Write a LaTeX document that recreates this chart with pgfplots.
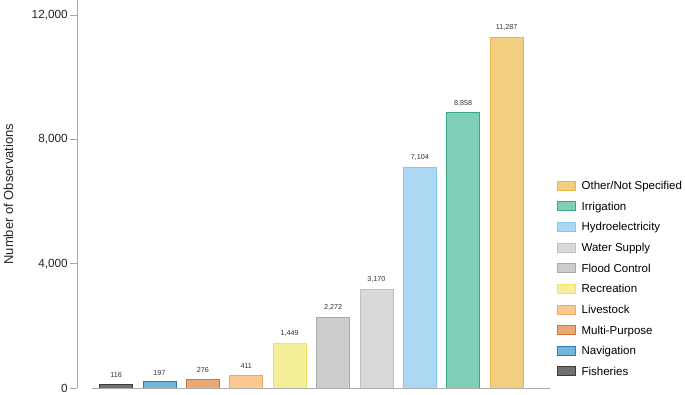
\documentclass[border=0pt]{standalone}
\usepackage{pgfplots}
\pgfplotsset{compat=1.18}
\usepackage{fontspec}
\setmainfont{Liberation Sans}
\definecolor{fisF}{HTML}{707070}\definecolor{fisD}{HTML}{3A3A3A}
\definecolor{navF}{HTML}{74B3DC}\definecolor{navD}{HTML}{2E7DB5}
\definecolor{mulF}{HTML}{E8A878}\definecolor{mulD}{HTML}{D9742E}
\definecolor{livF}{HTML}{FCC892}\definecolor{livD}{HTML}{F8A65B}
\definecolor{recF}{HTML}{F6EF9A}\definecolor{recD}{HTML}{EFE36A}
\definecolor{floF}{HTML}{CCCCCC}\definecolor{floD}{HTML}{A8A8A8}
\definecolor{watF}{HTML}{D9D9D9}\definecolor{watD}{HTML}{C0C0C0}
\definecolor{hydF}{HTML}{ACD8F3}\definecolor{hydD}{HTML}{86C6EF}
\definecolor{irrF}{HTML}{80CFB8}\definecolor{irrD}{HTML}{3AA882}
\definecolor{othF}{HTML}{F2CF80}\definecolor{othD}{HTML}{E8B84A}
\definecolor{axgray}{HTML}{AAAAAA}
\pgfplotsset{
  lg/.style={legend image code/.code={\draw[##1, line width=0.8pt] (0pt,-4pt) rectangle (18pt,5pt); \path[draw=none,fill=none] (0pt,0pt) -- (22pt,0pt);}},
}
\begin{document}
\begin{tikzpicture}
\begin{axis}[
  scale only axis, width=473pt, height=388pt,
  xmin=-0.9, xmax=10, ymin=0, ymax=12483,
  axis x line=none, axis y line*=left,
  y axis line style={axgray, line width=0.6pt},
  ytick={0,4000,8000,12000},
  scaled y ticks=false,
  /pgf/number format/.cd, 1000 sep={,}, assume math mode=true, /pgfplots/.cd,
  tick style={axgray, line width=0.6pt}, major tick length=7pt, tick align=outside,
  yticklabel style={font=\fontsize{11.8}{13}\selectfont, text=black!85, inner ysep=0pt, inner xsep=2pt},
  ylabel={Number of Observations},
  ylabel style={font=\fontsize{13}{15}\selectfont, text=black!85, yshift=13pt},
  ybar, bar width=33pt, bar shift=0pt,
  nodes near coords,
  every node near coord/.append style={font=\fontsize{7.2}{8}\selectfont, text=black!80, yshift=3pt},
  legend style={draw=none, at={(1.0,0.018)}, anchor=south west, xshift=4pt, font=\fontsize{11.5}{13}\selectfont, row sep=6.8pt, cells={anchor=west}, inner xsep=3pt},
  reverse legend,
]
\addplot[fill=fisF, draw=fisD, line width=0.8pt, lg] coordinates {(0,116)};
\addlegendentry{Fisheries}
\addplot[fill=navF, draw=navD, line width=0.8pt, lg] coordinates {(1,197)};
\addlegendentry{Navigation}
\addplot[fill=mulF, draw=mulD, line width=0.8pt, lg] coordinates {(2,276)};
\addlegendentry{Multi-Purpose}
\addplot[fill=livF, draw=livD, line width=0.8pt, lg] coordinates {(3,411)};
\addlegendentry{Livestock}
\addplot[fill=recF, draw=recD, line width=0.8pt, lg] coordinates {(4,1449)};
\addlegendentry{Recreation}
\addplot[fill=floF, draw=floD, line width=0.8pt, lg] coordinates {(5,2272)};
\addlegendentry{Flood Control}
\addplot[fill=watF, draw=watD, line width=0.8pt, lg] coordinates {(6,3170)};
\addlegendentry{Water Supply}
\addplot[fill=hydF, draw=hydD, line width=0.8pt, lg] coordinates {(7,7104)};
\addlegendentry{Hydroelectricity}
\addplot[fill=irrF, draw=irrD, line width=0.8pt, lg] coordinates {(8,8858)};
\addlegendentry{Irrigation}
\addplot[fill=othF, draw=othD, line width=0.8pt, lg] coordinates {(9,11287)};
\addlegendentry{Other/Not Specified}
\draw[axgray, line width=0.6pt] (axis cs:-0.55,0) -- (axis cs:10,0);
\end{axis}
\pgfresetboundingbox
\path ([shift={(-77pt,-6pt)}]current axis.south west) rectangle ([shift={(135pt,0pt)}]current axis.north east);
\end{tikzpicture}
\end{document}
